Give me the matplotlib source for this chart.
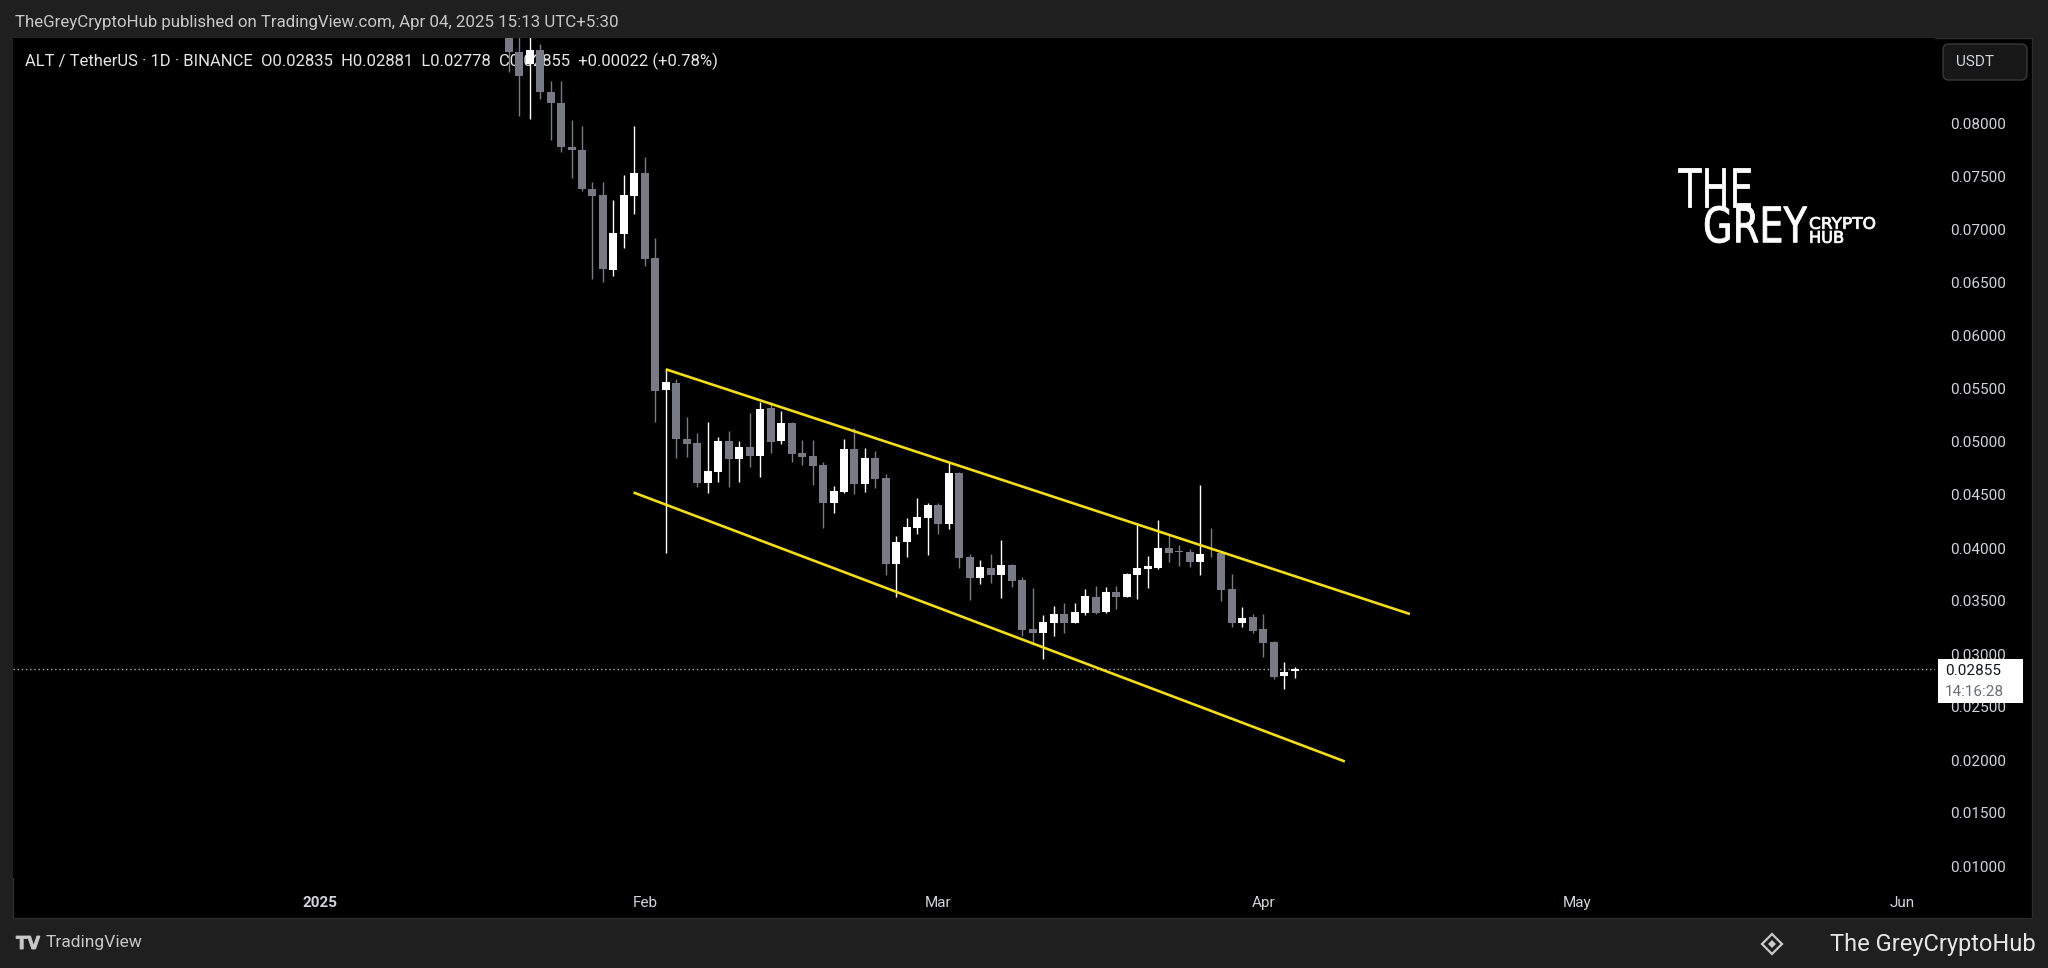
import matplotlib
matplotlib.use("Agg")
import matplotlib.pyplot as plt
import matplotlib.dates as mdates
from matplotlib.patches import Rectangle, FancyBboxPatch, PathPatch, Polygon
from matplotlib.textpath import TextPath
from matplotlib.path import Path
from matplotlib.font_manager import FontProperties
import numpy as np
import pandas as pd

# ---------------- data ----------------
dates = pd.date_range("2025-01-19", "2025-04-04", freq="D")
opens = [0.0905, 0.0868, 0.0857, 0.0870, 0.0830, 0.0820, 0.0778, 0.0775, 0.0739, 0.0733,
         0.0662, 0.0696, 0.0732, 0.0754, 0.0674, 0.0549, 0.0556, 0.05028, 0.04988, 0.04617,
         0.04714, 0.0501, 0.0484, 0.04956, 0.04871, 0.05318, 0.05013, 0.05176, 0.04894, 0.04868,
         0.04783, 0.04422, 0.04531, 0.04934, 0.04604, 0.04849, 0.04657, 0.03849, 0.04055, 0.04192,
         0.04286, 0.04406, 0.04224, 0.04711, 0.03912, 0.03714, 0.03814, 0.03745, 0.03837, 0.03698,
         0.03233, 0.03201, 0.03289, 0.03377, 0.03295, 0.0339, 0.03534, 0.03394, 0.03587, 0.03541,
         0.03745, 0.03799, 0.03808, 0.03997, 0.0396, 0.03965, 0.03871, 0.0394, 0.0395, 0.03613,
         0.03295, 0.03346, 0.03233, 0.03117, 0.02796, 0.02835]
highs = [0.0935, 0.0890, 0.0890, 0.0875, 0.0841, 0.0841, 0.0804, 0.0798, 0.0745, 0.0745,
         0.0728, 0.0752, 0.0798, 0.0769, 0.0692, 0.05686, 0.05592, 0.05239, 0.05089, 0.05186,
         0.05045, 0.05108, 0.05013, 0.05277, 0.05381, 0.05381, 0.05296, 0.05192, 0.05019, 0.0502,
         0.04815, 0.04585, 0.05028, 0.05135, 0.04946, 0.04915, 0.04695, 0.04113, 0.04286, 0.04475,
         0.04422, 0.0442, 0.04799, 0.0472, 0.03941, 0.03887, 0.03941, 0.04075, 0.03846, 0.03724,
         0.03626, 0.03368, 0.03453, 0.03484, 0.03484, 0.03613, 0.03644, 0.03635, 0.03644, 0.03761,
         0.04239, 0.03925, 0.04264, 0.04123, 0.04028, 0.03988, 0.04594, 0.04186, 0.0395, 0.03752,
         0.03441, 0.03377, 0.03377, 0.03123, 0.02922, 0.02881]
lows = [0.0849, 0.0808, 0.0805, 0.0824, 0.0785, 0.0774, 0.0749, 0.0737, 0.0654, 0.0651,
        0.0657, 0.0683, 0.0715, 0.0666, 0.0519, 0.0395, 0.04846, 0.04862, 0.04573, 0.04522,
        0.04627, 0.04573, 0.04627, 0.0476, 0.04673, 0.04894, 0.04979, 0.0481, 0.04783, 0.04594,
        0.04192, 0.04327, 0.0452, 0.04509, 0.04531, 0.04563, 0.03745, 0.03541, 0.03912, 0.04129,
        0.03934, 0.04129, 0.04179, 0.03814, 0.03509, 0.0366, 0.03673, 0.03531, 0.03629, 0.0317,
        0.03085, 0.0295, 0.0317, 0.03201, 0.03289, 0.03368, 0.03375, 0.03384, 0.03425, 0.0354,
        0.03519, 0.03626, 0.03805, 0.03871, 0.0383, 0.03824, 0.03745, 0.03912, 0.035, 0.03258,
        0.03252, 0.03195, 0.02975, 0.02764, 0.02667, 0.02778]
closes = [0.0868, 0.0845, 0.0870, 0.0830, 0.0820, 0.0778, 0.0775, 0.0739, 0.0732, 0.0663,
          0.0697, 0.0733, 0.0754, 0.0673, 0.0548, 0.0557, 0.05025, 0.04978, 0.04617, 0.0473,
          0.0501, 0.0484, 0.04956, 0.04871, 0.05309, 0.04998, 0.05176, 0.04884, 0.04862, 0.04777,
          0.04422, 0.04538, 0.04934, 0.04604, 0.04849, 0.04648, 0.03849, 0.0406, 0.04201, 0.04295,
          0.04406, 0.04224, 0.04711, 0.03903, 0.03714, 0.03824, 0.03745, 0.03837, 0.03692, 0.03226,
          0.03201, 0.03305, 0.03377, 0.03295, 0.03396, 0.0355, 0.0339, 0.03587, 0.03541, 0.03752,
          0.03808, 0.0383, 0.03997, 0.03956, 0.03955, 0.03871, 0.03941, 0.03934, 0.03604, 0.03295,
          0.03336, 0.0322, 0.03107, 0.02786, 0.02827, 0.02855]

# channel lines (trend-line anchor points)
upper_dates = ["2025-02-03", "2025-04-15"]
upper_prices = [0.05686, 0.03377]
lower_dates = ["2025-01-30 22:00", "2025-04-08 19:00"]
lower_prices = [0.04524, 0.01986]

price_ticks = [0.010, 0.015, 0.020, 0.025, 0.030, 0.035, 0.040, 0.045,
               0.050, 0.055, 0.060, 0.065, 0.070, 0.075, 0.080]
month_ticks = ["2025-01-01", "2025-02-01", "2025-03-01", "2025-04-01", "2025-05-01", "2025-06-01"]
month_labels = ["2025", "Feb", "Mar", "Apr", "May", "Jun"]
last_price = 0.02855
countdown = "14:16:28"

header = "TheGreyCryptoHub published on TradingView.com, Apr 04, 2025 15:13 UTC+5:30"
legend = "ALT / TetherUS · 1D · BINANCE  O0.02835  H0.02881  L0.02778  C0.02855  +0.00022 (+0.78%)"

# ---------------- figure ----------------
W, H = 2048, 968
FONT = "Roboto"
fig = plt.figure(figsize=(W / 100, H / 100), dpi=100, facecolor="#1f1f1f")

def px_axes(z):
    a = fig.add_axes([0, 0, 1, 1], zorder=z)
    a.set_xlim(0, W)
    a.set_ylim(H, 0)
    a.axis("off")
    return a

bg = px_axes(-10)
bg.add_patch(Rectangle((13, 38), 2032 - 13, 918 - 38, facecolor="#000000",
                       edgecolor="#2c2c2c", linewidth=1))

# main price axes in pixel placement
L, R, T, B = 13, 1935, 38, 878
ax = fig.add_axes([L / W, (H - B) / H, (R - L) / W, (B - T) / H], zorder=0)
ax.set_facecolor("#000000")
for s in ax.spines.values():
    s.set_visible(False)

base = mdates.date2num(pd.Timestamp("2025-01-01"))
ppd = 10.48
ax.set_xlim(base + (L - 320) / ppd, base + (R - 320) / ppd)
ax.set_ylim(0.08 - (B - 124) / 10600, 0.08 - (T - 124) / 10600)

x = mdates.date2num(dates)
o = np.array(opens); h = np.array(highs); lo = np.array(lows); c = np.array(closes)
up = c >= o
col = np.where(up, "#ffffff", "#787b86")
ax.vlines(x, lo, h, colors=col, linewidth=1.0, zorder=3)
body = np.where(np.abs(c - o) < 0.00008, 0.00008, c - o)
ax.bar(x, body, bottom=o, width=0.76, color=col, linewidth=0, zorder=4)

yellow = "#f2dc1d"
ax.plot(mdates.date2num(pd.to_datetime(upper_dates)), upper_prices, color=yellow, lw=1.9,
        zorder=5, solid_capstyle="butt")
ax.plot(mdates.date2num(pd.to_datetime(lower_dates)), lower_prices, color=yellow, lw=1.9,
        zorder=5, solid_capstyle="butt")

ax.axhline(last_price, color="#a9acb4", lw=1.0, linestyle=(0, (1, 2)), zorder=2)

# axes ticks
ax.yaxis.tick_right()
ax.set_yticks(price_ticks)
ax.set_yticklabels([f"{v:.5f}" for v in price_ticks])
ax.tick_params(axis="y", length=0, pad=11, labelsize=11, labelcolor="#d1d4dc")
ax.set_xticks(mdates.date2num(pd.to_datetime(month_ticks)))
ax.set_xticklabels(month_labels)
ax.tick_params(axis="x", length=0, pad=13, labelsize=11, labelcolor="#d1d4dc")
for lab in ax.get_xticklabels() + ax.get_yticklabels():
    lab.set_fontfamily(FONT)
ax.get_xticklabels()[0].set_fontweight("bold")

# legend text (under candles)
ax.text((25 - L) / (R - L), 1 - (61 - T) / (B - T), legend, transform=ax.transAxes,
        ha="left", va="center", fontsize=12, color="#e6e6e6", family=FONT, zorder=1)

# ---------------- foreground decorations ----------------
fg = px_axes(10)
fg.text(15, 23, header, ha="left", va="center", fontsize=12.2, color="#c8c8c8", family=FONT)

# price box
fg.add_patch(Rectangle((1938, 659), 85, 44, facecolor="#ffffff", edgecolor="none"))
fg.text(1945, 671, f"{last_price:.5f}", ha="left", va="center", fontsize=11,
        color="#131722", family=FONT)
fg.text(1945, 692, countdown, ha="left", va="center", fontsize=11,
        color="#6a6d78", family=FONT)

# USDT button
fg.add_patch(FancyBboxPatch((1943, 44), 84, 36, boxstyle="round,pad=0,rounding_size=6",
                            facecolor="#171717", edgecolor="#3a3a3a", linewidth=1))
fg.text(1975, 62, "USDT", ha="center", va="center", fontsize=11, color="#d1d4dc", family=FONT)

# logo text placed into boxes
def fit_text(s, box, color="#ffffff", family="DejaVu Sans", weight="normal"):
    tp = TextPath((0, 0), s, size=100, prop=FontProperties(family=family, weight=weight))
    v = tp.vertices.copy()
    bx0, by0 = v[:, 0].min(), v[:, 1].min()
    bx1, by1 = v[:, 0].max(), v[:, 1].max()
    X0, Y0, X1, Y1 = box
    nv = np.column_stack([X0 + (v[:, 0] - bx0) * (X1 - X0) / (bx1 - bx0),
                          Y1 - (v[:, 1] - by0) * (Y1 - Y0) / (by1 - by0)])
    fg.add_patch(PathPatch(Path(nv, tp.codes), facecolor=color, edgecolor=color, linewidth=0.6))

fit_text("THE", (1678, 168, 1750, 207))
fit_text("GREY", (1703, 206, 1807, 243))
fit_text("CRYPTO", (1809, 217, 1875, 229))
fit_text("HUB", (1809, 231, 1843, 243))

# footer
fit_text("TV", (16, 936, 40, 949), color="#c8c8c8", family="DejaVu Sans", weight="bold")
fg.text(46, 943, "TradingView", ha="left", va="center", fontsize=12.5, color="#c8c8c8", family=FONT)
fg.add_patch(Polygon([(1772, 934), (1782, 944), (1772, 954), (1762, 944)], closed=True,
                     facecolor="none", edgecolor="#c8c8c8", linewidth=1.6))
fg.add_patch(Polygon([(1772, 940), (1776, 944), (1772, 948), (1768, 944)], closed=True,
                     facecolor="#c8c8c8", edgecolor="none"))
fg.text(2036, 944, "The GreyCryptoHub", ha="right", va="center", fontsize=17,
        color="#e6e6e6", family=FONT)

fig.savefig("out.png", dpi=100, facecolor=fig.get_facecolor())
